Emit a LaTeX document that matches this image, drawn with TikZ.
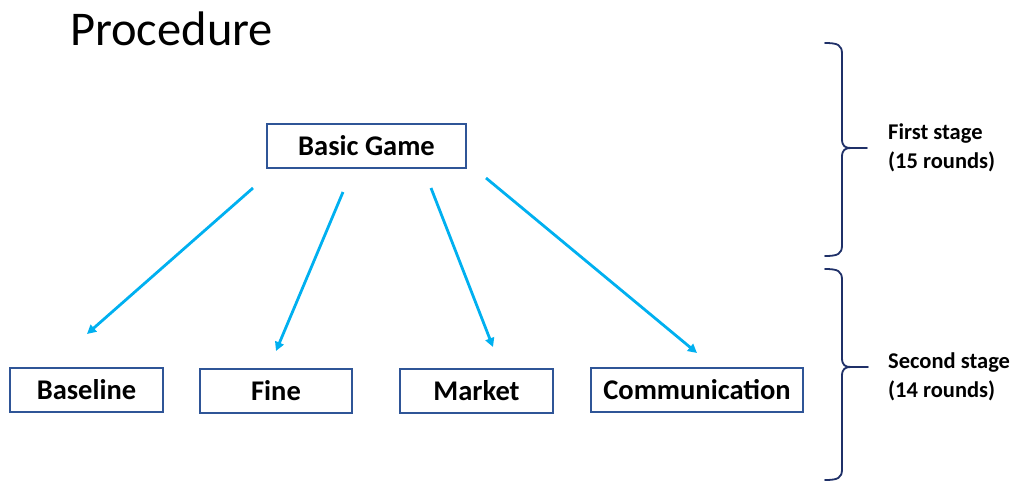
\documentclass[tikz,border=0pt]{standalone}
\usepackage{fontspec}
\setmainfont{Carlito}
\usetikzlibrary{arrows.meta}
\definecolor{boxblue}{HTML}{2F5597}
\definecolor{arrowblue}{HTML}{00B0F0}
\definecolor{bracenavy}{HTML}{1F3068}
\begin{document}
\begin{tikzpicture}[x=1pt,y=-1pt,
  stagebox/.style={draw=boxblue,line width=2pt,minimum height=44pt,inner sep=0pt,
    font=\fontsize{28.5}{32}\selectfont\bfseries},
  flow/.style={draw=arrowblue,line width=2.8pt,-{Triangle[length=9pt,width=9pt]}},
  brace/.style={draw=bracenavy,line width=1.8pt,line cap=round,line join=round},
  stagelabel/.style={anchor=base west,align=left,inner sep=0pt,
    font=\fontsize{22.5}{28.5}\selectfont\bfseries}]
\useasboundingbox (0,0) rectangle (1016,482);

% title
\node[anchor=base west,inner sep=0pt,font=\fontsize{48.5}{56}\selectfont] (title) at (70,45) {Procedure};

% boxes
\node[stagebox,minimum width=199pt] (basic) at (366.5,146) {Basic Game};
\node[stagebox,minimum width=153pt] (base) at (86.5,389.5) {Baseline};
\node[stagebox,minimum width=152pt] (fine) at (276,390.5) {Fine};
\node[stagebox,minimum width=153pt] (market) at (476.5,390.5) {Market};
\node[stagebox,minimum width=212pt] (comm) at (697,390) {Communication};

% arrow ends
\coordinate (s1) at (253,188); \coordinate (e1) at (87,334);
\coordinate (s2) at (343,192); \coordinate (e2) at (276,351);
\coordinate (s3) at (431,188); \coordinate (e3) at (493,347);
\coordinate (s4) at (486,178); \coordinate (e4) at (697,353);
\draw[flow] (s1) -- (e1);
\draw[flow] (s2) -- (e2);
\draw[flow] (s3) -- (e3);
\draw[flow] (s4) -- (e4);

% braces
\draw[brace] (825,43) .. controls (838,43) and (842,45) .. (842,54)
  -- (842,139) .. controls (842,146) and (845,148) .. (851,148) -- (867,148);
\draw[brace] (825,256) .. controls (838,256) and (842,254) .. (842,245)
  -- (842,157) .. controls (842,150) and (845,148) .. (851,148);
\draw[brace] (825,269) .. controls (838,269) and (842,271) .. (842,280)
  -- (842,358) .. controls (842,365) and (845,367) .. (851,367) -- (868,367);
\draw[brace] (825,480) .. controls (838,480) and (842,478) .. (842,469)
  -- (842,376) .. controls (842,369) and (845,367) .. (851,367);

% stage labels (base anchor sits on the last line)
\node[stagelabel] (first) at (888,168) {First stage\\(15 rounds)};
\node[stagelabel] (second) at (888,397) {Second stage\\(14 rounds)};
\end{tikzpicture}
\end{document}
